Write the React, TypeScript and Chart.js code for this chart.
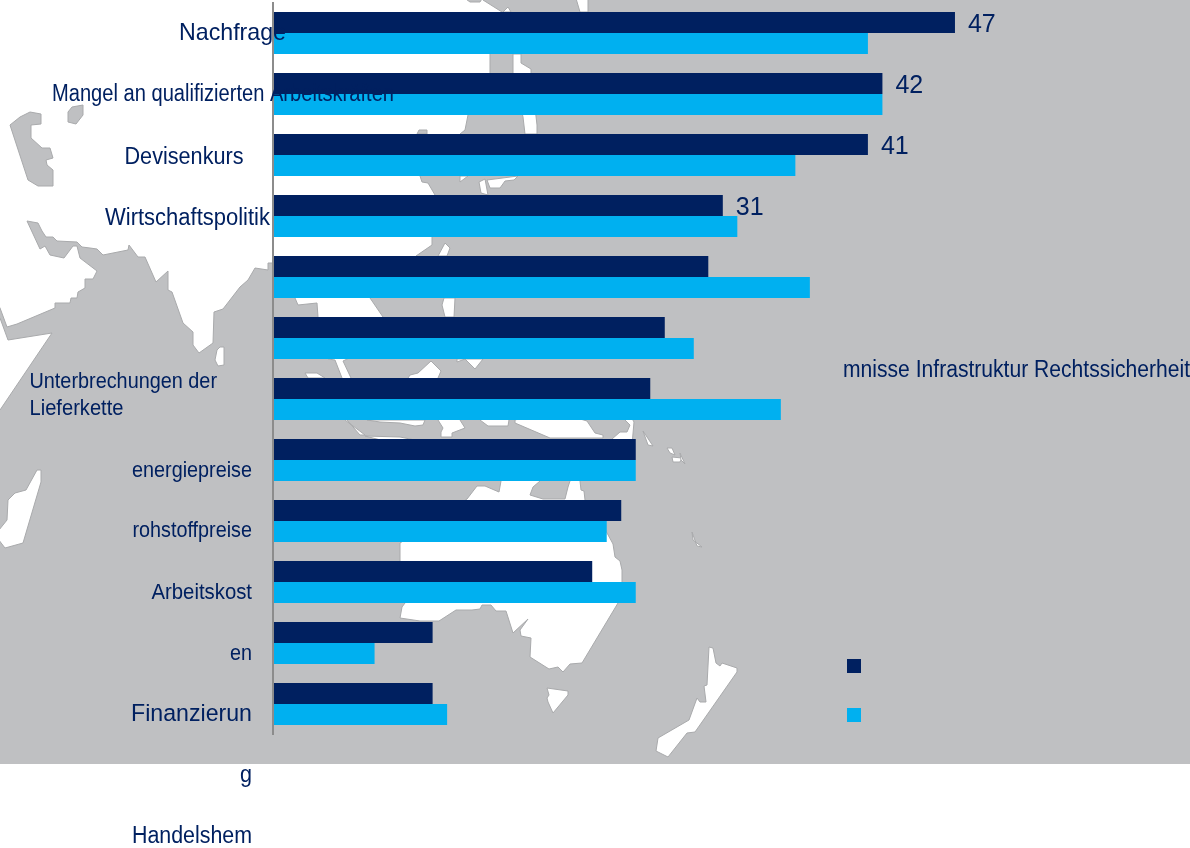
import React, { useEffect, useRef } from "react";
import { Chart, registerables } from "chart.js";

Chart.register(...registerables);

// Chart data
const categories = [
  "Nachfrage",
  "Mangel an qualifizierten Arbeitskräften",
  "Devisenkurs",
  "Wirtschaftspolitik",
  "Genehmigungserfordernisse",
  "Infrastruktur",
  "Rechtssicherheit",
  "Unterbrechungen der Lieferkette",
  "Energiepreise",
  "Rohstoffpreise",
  "Arbeitskosten",
  "Finanzierung",
];
const seriesDark = [47, 42, 41, 31, 30, 27, 26, 25, 24, 22, 11, 11];
const seriesLight = [41, 42, 36, 32, 37, 29, 35, 25, 23, 25, 7, 12];
const labelledDarkBars = [0, 1, 2, 3];

const NAVY = "#002060";
const CYAN = "#00B0F0";
const SEA = "#bfc0c2";
const FONT = '"Liberation Sans", Arial, sans-serif';

// Free-floating axis texts as they sit in the picture: [text, x, baseline, size, align, width]
const floatingTexts: [string, number, number, number, CanvasTextAlign, number][] = [
  ["Nachfrage", 179, 40, 24, "left", 107],
  ["Mangel an qualifizierten Arbeitskräften", 52, 101, 23, "left", 342],
  ["Devisenkurs", 124.5, 163.5, 23, "left", 119],
  ["Wirtschaftspolitik", 105, 225, 23.5, "left", 165],
  ["mnisse Infrastruktur Rechtssicherheit", 843, 377, 23, "left", 347],
  ["Unterbrechungen der", 29.5, 388, 22.5, "left", 187.5],
  ["Lieferkette", 29.5, 415, 22.5, "left", 94],
  ["energiepreise", 252, 477, 22.5, "right", 120],
  ["rohstoffpreise", 252, 537, 22.5, "right", 119.5],
  ["Arbeitskost", 252, 598.5, 22.5, "right", 100.5],
  ["en", 252, 659.5, 22.5, "right", 22],
  ["Finanzierun", 252, 720.5, 24.5, "right", 121],
  ["g", 252, 782, 24.5, "right", 12],
  ["Handelshem", 252, 843, 23, "right", 120],
];

// Decorative backdrop map: land outlines
type Pt = [number, number];
const asia: Pt[] = [
  [-5, -5], [483, -5], [483, 0], [502, 12], [490, 54], [490, 73], [468, 115], [465, 130], [460, 134],
  [440, 160], [420, 176], [422, 182], [428, 183], [435, 195], [433, 216], [432, 237], [432, 245], [416, 256],
  [400, 277], [370, 298], [383, 317], [390, 338], [343, 361], [351, 378], [355, 400], [347, 420], [360, 435], [365, 435],
  [345, 420], [342, 378], [335, 360], [328, 359], [318, 317], [317, 303], [298, 305], [295, 298], [273, 263], [268, 263],
  [268, 270], [255, 268], [248, 280], [240, 287], [223, 309], [214, 312], [213, 343], [199, 353], [193, 345], [193, 332],
  [183, 323], [172, 292], [168, 290], [168, 271], [156, 282], [145, 257], [138, 257], [129, 245], [128, 250], [103, 255],
  [97, 249], [90, 248], [82, 247], [77, 242], [57, 241], [53, 237], [46, 237], [42, 231], [38, 223], [27, 221], [40, 249],
  [45, 246], [50, 255], [64, 258], [73, 246], [77, 246], [80, 258], [97, 271], [93, 279], [85, 279], [85, 288], [78, 292],
  [77, 298], [71, 298], [70, 303], [55, 303], [55, 308], [17, 324], [7, 327], [0, 308], [-5, 300],
];
const australia: Pt[] = [
  [400, 543], [467, 499], [477, 486], [485, 486], [499, 492], [501, 481], [503, 470], [540, 470], [540, 481], [533, 487],
  [530, 495], [543, 499], [565, 499], [568, 487], [570, 481], [575, 465], [580, 481], [581, 490], [584, 491], [585, 500],
  [600, 520], [613, 544], [615, 557], [620, 561], [622, 570], [622, 585], [618, 603], [582, 663], [570, 664], [563, 672],
  [558, 667], [549, 669], [530, 657], [531, 638], [521, 636], [520, 630], [528, 619], [513, 633], [506, 611], [496, 611],
  [491, 605], [482, 605], [480, 609], [472, 610], [456, 610], [439, 621], [420, 621], [400, 618], [402, 607], [405, 603],
  [400, 590],
];
const otherLand: Pt[][] = [
  // Tasmania
  [[547, 688], [568, 691], [568, 695], [553, 713], [548, 702], [547, 698], [549, 695]],
  // New Zealand
  [[709, 647], [713, 648], [716, 663], [720, 666], [722, 663], [737, 668], [737, 672], [695, 732], [687, 733], [668, 757],
   [656, 751], [658, 738], [689, 720], [697, 698], [700, 702], [706, 702], [704, 686], [707, 685]],
  // Madagascar
  [[37, 470], [41, 470], [41, 482], [23, 543], [5, 548], [-5, 535], [7, 520], [8, 500], [15, 493], [26, 490]],
  // Sri Lanka
  [[217, 350], [220, 347], [224, 347], [224, 365], [218, 366], [215, 360]],
  // Horn of Africa
  [[-5, 315], [0, 318], [8, 340], [52, 333], [0, 410], [-5, 415]],
  // Northeast
  [[503, 12], [508, 7], [511, 12]],
  [[575, -5], [588, -5], [588, 12], [580, 12]],
  [[513, 54], [521, 54], [521, 63], [531, 69], [531, 73], [537, 125], [537, 134], [525, 134], [523, 117], [513, 73]],
  // East Asia islands
  [[460, 182], [468, 176], [460, 176]],
  [[479, 182], [485, 179], [488, 195], [481, 193]],
  [[487, 180], [518, 176], [514, 180], [505, 181], [500, 188], [490, 188]],
  [[438, 256], [445, 243], [450, 248], [447, 256]],
  [[442, 305], [444, 298], [455, 298], [454, 317], [445, 317]],
  // South-East Asia, row by row
  [[305, 373], [317, 373], [325, 378], [308, 378]],
  [[457, 359], [483, 359], [475, 369], [465, 359], [457, 362]],
  [[408, 378], [410, 375], [418, 373], [431, 361], [441, 371], [438, 378], [430, 400], [410, 400]],
  [[367, 420], [400, 420], [425, 420], [423, 425], [415, 426], [400, 423], [380, 422]],
  [[365, 436], [400, 437], [440, 445], [400, 445]],
  [[438, 420], [443, 428], [441, 432], [441, 437], [452, 437], [452, 433], [465, 428], [460, 420], [450, 410]],
  [[480, 420], [488, 426], [508, 426], [509, 420], [495, 410]],
  [[515, 420], [515, 423], [550, 438], [603, 438], [603, 435], [595, 433], [587, 421], [550, 410]],
  [[625, 420], [630, 425], [627, 432], [620, 432], [612, 439], [612, 445], [632, 445], [634, 422], [630, 415]],
  [[643, 431], [653, 446], [648, 445]],
  [[667, 448], [672, 448], [675, 455], [670, 453]],
  [[672, 457], [682, 458], [680, 462], [673, 462]],
  [[680, 453], [685, 464], [681, 460]],
  [[692, 532], [693, 540], [702, 547], [697, 546]],
];
const seaHoles: Pt[][] = [
  // Caspian
  [[10, 125], [20, 117], [30, 112], [41, 114], [41, 124], [31, 125], [31, 138], [42, 148], [50, 148], [53, 158], [46, 160],
   [47, 165], [53, 170], [53, 186], [38, 186], [28, 180]],
  // Aral
  [[68, 112], [72, 107], [83, 105], [83, 115], [76, 124], [68, 122]],
  // Small inland waters
  [[417, 134], [419, 130], [427, 130], [427, 134]],
  [[463, -3], [470, 2], [480, 2], [483, -3]],
];

const tracePath = (ctx: CanvasRenderingContext2D, pts: Pt[]) => {
  ctx.beginPath();
  pts.forEach(([x, y], i) => (i ? ctx.lineTo(x, y) : ctx.moveTo(x, y)));
  ctx.closePath();
};

const backdrop = {
  id: "backdrop",
  beforeDraw(chart: Chart) {
    const ctx = chart.ctx;
    ctx.save();
    ctx.fillStyle = SEA;
    ctx.fillRect(0, 0, 1190, 764);
    ctx.beginPath();
    ctx.rect(0, 0, 1190, 764);
    ctx.clip();
    ctx.lineWidth = 1;
    ctx.strokeStyle = "#a9aaac";
    ctx.lineJoin = "round";
    ctx.fillStyle = "#ffffff";
    [asia, australia, ...otherLand].forEach((p) => {
      tracePath(ctx, p);
      ctx.fill();
      ctx.stroke();
    });
    ctx.fillStyle = SEA;
    seaHoles.forEach((p) => {
      tracePath(ctx, p);
      ctx.fill();
      ctx.stroke();
    });
    ctx.restore();
  },
};

const overlay = {
  id: "overlay",
  afterDraw(chart: Chart) {
    const ctx = chart.ctx;
    ctx.save();
    ctx.fillStyle = NAVY;
    ctx.textBaseline = "alphabetic";
    floatingTexts.forEach(([text, x, y, size, align, width]) => {
      ctx.font = `${size}px ${FONT}`;
      ctx.textAlign = align;
      ctx.fillText(text, x, y, width);
    });
    // value labels on the dark bars
    const meta = chart.getDatasetMeta(0);
    ctx.font = `25px ${FONT}`;
    ctx.textAlign = "left";
    labelledDarkBars.forEach((i) => {
      const bar = meta.data[i] as any;
      ctx.fillText(String(seriesDark[i]), bar.x + 13, bar.y + 9);
    });
    // legend keys
    ctx.fillStyle = NAVY;
    ctx.fillRect(847, 659, 14, 14);
    ctx.fillStyle = CYAN;
    ctx.fillRect(847, 708, 14, 14);
    ctx.restore();
  },
};

export default function App() {
  const ref = useRef<HTMLCanvasElement>(null);
  useEffect(() => {
    document.body.style.margin = "0";
    const chart = new Chart(ref.current!, {
      type: "bar",
      data: {
        labels: categories,
        datasets: [
          { label: "Reihe 1", data: seriesDark, backgroundColor: NAVY },
          { label: "Reihe 2", data: seriesLight, backgroundColor: CYAN },
        ],
      },
      options: {
        indexAxis: "y",
        animation: false,
        responsive: false,
        layout: { padding: { left: 273, right: 46.4, top: 2.5, bottom: 113.5 } },
        datasets: { bar: { barPercentage: 1, categoryPercentage: 42 / 61 } },
        plugins: { legend: { display: false }, tooltip: { enabled: false } },
        scales: {
          x: { display: false, min: 0, max: 60 },
          y: {
            afterFit: (s: any) => { s.width = 0; },
            ticks: { display: false },
            grid: { display: false, drawTicks: false },
            border: { display: true, color: "#8c8c8c", width: 2, z: 1 },
          },
        },
      },
      plugins: [backdrop, overlay],
    });
    return () => chart.destroy();
  }, []);
  return (
    <div style={{ position: "absolute", left: 0, top: 0, width: 1190, height: 848 }}>
      <canvas ref={ref} width={1190} height={848} style={{ display: "block" }} />
    </div>
  );
}
